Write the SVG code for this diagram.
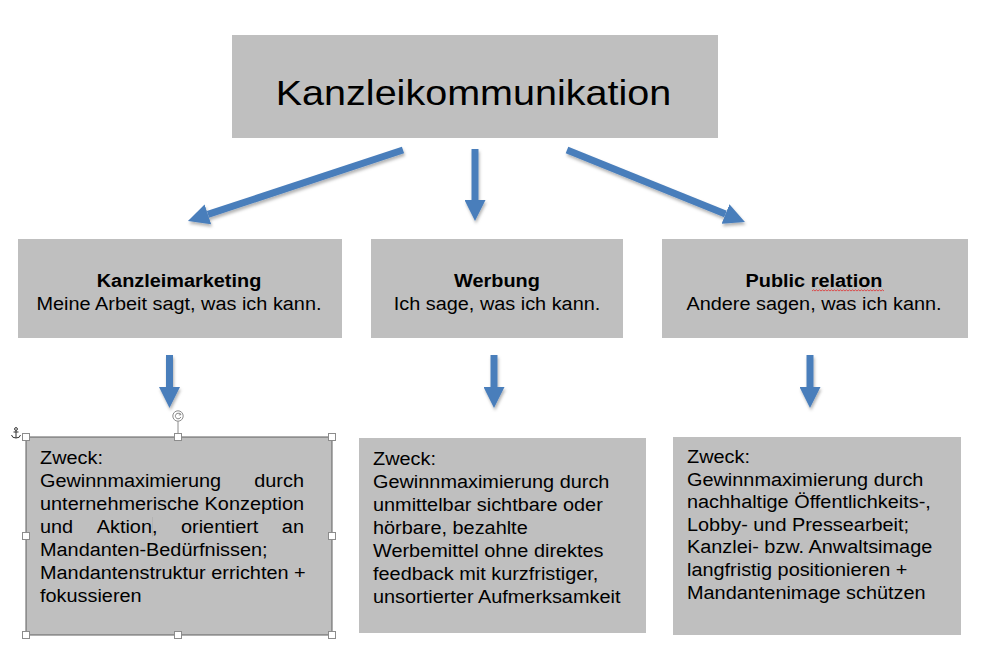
<svg xmlns="http://www.w3.org/2000/svg" width="996" height="667" viewBox="0 0 996 667">
<style>
.box{fill:#bfbfbf}
.t{font-family:"Liberation Sans",Arial,Helvetica,sans-serif;fill:#000}
.body{font-size:17.6px}
.bold{font-size:17.6px;font-weight:bold}
.title{font-size:35px}
.conn{stroke:#4a7ebb;stroke-width:7;fill:none;marker-end:url(#ah)}
.handle{fill:#fff;stroke:#8c8c8c;stroke-width:1}
</style>
<defs>
<marker id="ah" markerUnits="strokeWidth" markerWidth="3" markerHeight="3" refX="0" refY="1.5" orient="auto" viewBox="0 0 3 3">
<path d="M0,0 L3,1.5 L0,3 z" fill="#4a7ebb"/>
</marker>
<filter id="sh" x="-20%" y="-20%" width="140%" height="160%">
<feDropShadow dx="1" dy="2.5" stdDeviation="1.6" flood-color="#000" flood-opacity="0.3"/>
</filter>
</defs>
<rect width="996" height="667" fill="#fff"/>

<g id="root">
<rect class="box" x="232" y="35" width="486" height="103"/>
<g transform="translate(473.5 0) scale(1.13 1)"><text class="t title" x="0" y="105" text-anchor="middle">Kanzleikommunikation</text></g>
</g>

<g id="kanzleimarketing">
<rect class="box" x="18" y="239" width="324" height="99"/>
<g transform="translate(179 0) scale(1.13 1)">
<text class="t bold" x="0" y="287" text-anchor="middle">Kanzleimarketing</text>
<text class="t body" x="0" y="310" text-anchor="middle">Meine Arbeit sagt, was ich kann.</text>
</g>
</g>

<g id="werbung">
<rect class="box" x="371" y="239" width="252" height="99"/>
<g transform="translate(497 0) scale(1.13 1)">
<text class="t bold" x="0" y="287" text-anchor="middle">Werbung</text>
<text class="t body" x="0" y="310" text-anchor="middle">Ich sage, was ich kann.</text>
</g>
</g>

<g id="public-relation">
<rect class="box" x="662" y="239" width="306" height="99"/>
<g transform="translate(814 0) scale(1.13 1)">
<text class="t bold" x="0" y="287" text-anchor="middle">Public relation</text>
<text class="t body" x="0" y="310" text-anchor="middle">Andere sagen, was ich kann.</text>
</g>
<path d="M812,291 l1.5,-1.2 l1.5,1.2 l1.5,-1.2 l1.5,1.2 l1.5,-1.2 l1.5,1.2 l1.5,-1.2 l1.5,1.2 l1.5,-1.2 l1.5,1.2 l1.5,-1.2 l1.5,1.2 l1.5,-1.2 l1.5,1.2 l1.5,-1.2 l1.5,1.2 l1.5,-1.2 l1.5,1.2 l1.5,-1.2 l1.5,1.2 l1.5,-1.2 l1.5,1.2 l1.5,-1.2 l1.5,1.2 l1.5,-1.2 l1.5,1.2 l1.5,-1.2 l1.5,1.2 l1.5,-1.2 l1.5,1.2 l1.5,-1.2 l1.5,1.2 l1.5,-1.2 l1.5,1.2 l1.5,-1.2 l1.5,1.2 l1.5,-1.2 l1.5,1.2 l1.5,-1.2 l1.5,1.2 l1.5,-1.2 l1.5,1.2 l1.5,-1.2 l1.5,1.2 l1.5,-1.2 l1.5,1.2 l1.5,-1.2 l1.5,1.2" fill="none" stroke="#e03030" stroke-width="0.8"/>
</g>

<g id="zweck-marketing">
<rect class="box" x="26" y="437" width="306" height="198" stroke="#5f5f5f" stroke-width="1"/>
<g transform="translate(40 0) scale(1.13 1)">
<text class="t body" x="0" y="464">Zweck:</text>
<text class="t body" x="0" y="487">Gewinnmaximierung</text>
<text class="t body" x="233.6" y="487" text-anchor="end">durch</text>
<text class="t body" x="0" y="510">unternehmerische Konzeption</text>
<text class="t body" x="0" y="533">und</text>
<text class="t body" x="50.2" y="533">Aktion,</text>
<text class="t body" x="124.8" y="533">orientiert</text>
<text class="t body" x="233.6" y="533" text-anchor="end">an</text>
<text class="t body" x="0" y="556">Mandanten-Bedürfnissen;</text>
<text class="t body" x="0" y="579">Mandantenstruktur errichten +</text>
<text class="t body" x="0" y="602">fokussieren</text>
</g>
<line x1="152.5" y1="517" x2="152.5" y2="537" stroke="#b0b0b0" stroke-width="0.8"/>
<line x1="178" y1="421" x2="178" y2="434" stroke="#8c8c8c" stroke-width="1"/>
<circle class="handle" cx="178" cy="416" r="5.2"/>
<path d="M180.3,414.2 A2.8,2.8 0 1 0 180.8,417" fill="none" stroke="#777" stroke-width="0.9"/>
<path d="M179.6,412.8 L181,414.6 L178.8,415" fill="none" stroke="#777" stroke-width="0.8"/>
<rect class="handle" x="22.5" y="433.5" width="7" height="7"/>
<rect class="handle" x="174.5" y="433.5" width="7" height="7"/>
<rect class="handle" x="328.5" y="433.5" width="7" height="7"/>
<rect class="handle" x="22.5" y="532.5" width="7" height="7"/>
<rect class="handle" x="328.5" y="532.5" width="7" height="7"/>
<rect class="handle" x="22.5" y="631.5" width="7" height="7"/>
<rect class="handle" x="174.5" y="631.5" width="7" height="7"/>
<rect class="handle" x="328.5" y="631.5" width="7" height="7"/>
<g fill="none" stroke="#333" stroke-width="1">
<circle cx="16" cy="429" r="1.4"/>
<line x1="16" y1="430.5" x2="16" y2="438"/>
<line x1="13.5" y1="432" x2="18.5" y2="432"/>
<path d="M11.5,435 Q12,438 16,438 Q20,438 20.5,435"/>
</g>
</g>

<g id="zweck-werbung">
<rect class="box" x="359" y="438" width="287" height="195"/>
<g transform="translate(373 0) scale(1.13 1)">
<text class="t body" x="0" y="465">Zweck:</text>
<text class="t body" x="0" y="488">Gewinnmaximierung durch</text>
<text class="t body" x="0" y="511">unmittelbar sichtbare oder</text>
<text class="t body" x="0" y="534">hörbare, bezahlte</text>
<text class="t body" x="0" y="557">Werbemittel ohne direktes</text>
<text class="t body" x="0" y="580">feedback mit kurzfristiger,</text>
<text class="t body" x="0" y="603">unsortierter Aufmerksamkeit</text>
</g>
</g>

<g id="zweck-pr">
<rect class="box" x="673" y="437" width="288" height="198"/>
<g transform="translate(687 0) scale(1.13 1)">
<text class="t body" x="0" y="463.5">Zweck:</text>
<text class="t body" x="0" y="486">Gewinnmaximierung durch</text>
<text class="t body" x="0" y="508.5">nachhaltige Öffentlichkeits-,</text>
<text class="t body" x="0" y="531">Lobby- und Pressearbeit;</text>
<text class="t body" x="0" y="553.5">Kanzlei- bzw. Anwaltsimage</text>
<text class="t body" x="0" y="576">langfristig positionieren +</text>
<text class="t body" x="0" y="599">Mandantenimage schützen</text>
</g>
</g>

<g id="connectors" filter="url(#sh)">
<line class="conn" x1="403" y1="150" x2="207.9" y2="214.4"/>
<line class="conn" x1="475" y1="149" x2="475" y2="200"/>
<line class="conn" x1="567" y1="150" x2="725.5" y2="214.1"/>
<line class="conn" x1="169.5" y1="355" x2="169.5" y2="387"/>
<line class="conn" x1="494" y1="355" x2="494" y2="387"/>
<line class="conn" x1="810" y1="355" x2="810" y2="387"/>
</g>
</svg>
